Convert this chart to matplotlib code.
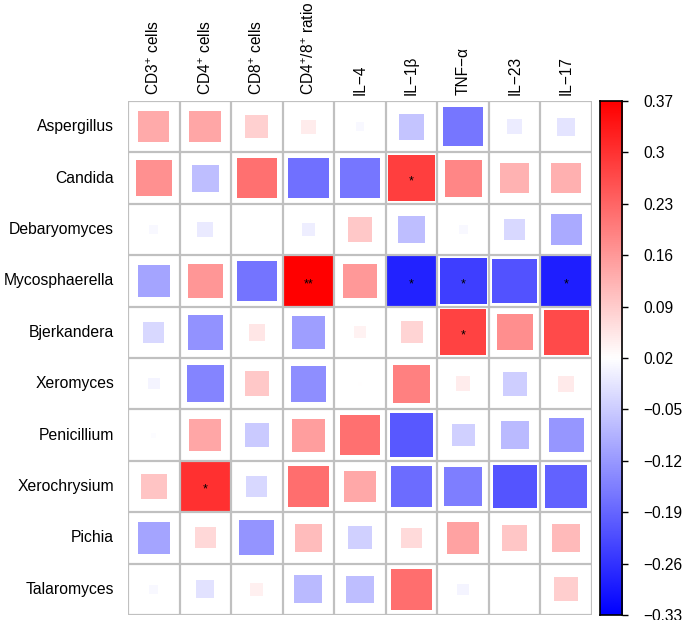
import numpy as np
import matplotlib
matplotlib.use("Agg")
import matplotlib.pyplot as plt
from matplotlib.patches import Rectangle
from matplotlib.colors import LinearSegmentedColormap, Normalize

plt.rcParams['font.family'] = ['Liberation Sans', 'DejaVu Sans']
plt.rcParams['mathtext.fontset'] = 'custom'
plt.rcParams['mathtext.rm'] = 'Liberation Sans'
plt.rcParams['mathtext.it'] = 'Liberation Sans:italic'

genera = ["Aspergillus", "Candida", "Debaryomyces", "Mycosphaerella", "Bjerkandera",
          "Xeromyces", "Penicillium", "Xerochrysium", "Pichia", "Talaromyces"]
markers = ["CD3$^{+}$ cells", "CD4$^{+}$ cells", "CD8$^{+}$ cells", "CD4$^{+}$/8$^{+}$ ratio",
           "IL\u22124", "IL\u22121\u03b2", "TNF\u2212\u03b1", "IL\u221223", "IL\u221217"]

aspergillus    = [0.137, 0.141, 0.085, 0.045, 0.011, -0.060, -0.168, -0.006, -0.018]
candida        = [0.172, -0.069, 0.215, -0.175, -0.168, 0.284, 0.186, 0.124, 0.129]
debaryomyces   = [0.011, -0.010, 0.020, -0.002, 0.094, -0.070, 0.010, -0.033, -0.095]
mycosphaerella = [-0.105, 0.163, -0.171, 0.370, 0.160, -0.281, -0.245, -0.217, -0.288]
bjerkandera    = [-0.034, -0.130, 0.053, -0.113, 0.037, 0.078, 0.278, 0.175, 0.267]
xeromyces      = [0.004, -0.147, 0.094, -0.135, 0.022, 0.193, 0.046, -0.048, 0.050]
penicillium    = [0.017, 0.142, -0.052, 0.153, 0.215, -0.209, -0.043, -0.074, -0.124]
xerochrysium   = [0.100, 0.302, -0.033, 0.219, 0.140, -0.182, -0.157, -0.213, -0.195]
pichia         = [-0.105, 0.074, -0.127, 0.111, -0.045, 0.071, 0.147, 0.098, 0.114]
talaromyces    = [0.010, -0.020, 0.040, -0.074, -0.069, 0.219, 0.004, 0.020, 0.088]

signif = {(1, 5): "*", (3, 3): "**", (3, 5): "*", (3, 6): "*", (3, 8): "*",
          (4, 6): "*", (7, 1): "*"}

cbar_ticks = [0.37, 0.3, 0.23, 0.16, 0.09, 0.02, -0.05, -0.12, -0.19, -0.26, -0.33]

data = np.array([aspergillus, candida, debaryomyces, mycosphaerella, bjerkandera,
                 xeromyces, penicillium, xerochrysium, pichia, talaromyces])

vmin, vmax = -0.33, 0.37
mid = (vmin + vmax) / 2
half = (vmax - vmin) / 2
cmap = LinearSegmentedColormap.from_list("bwr_pure", ["#0000FF", "#FFFFFF", "#FF0000"])
norm = Normalize(vmin=vmin, vmax=vmax)

W, H = 685, 620
fig = plt.figure(figsize=(W / 100, H / 100), dpi=100)
ax = fig.add_axes([128 / W, 1 - 615 / H, (592 - 128) / W, (615 - 101) / H])
nr, nc = data.shape
ax.set_xlim(0, nc)
ax.set_ylim(nr, 0)

grid_col = "#C0C0C0"
for i in range(nr):
    for j in range(nc):
        v = data[i, j]
        q = min(abs(v - mid) / half, 1.0)
        s = min(np.sqrt(q) * 1.045, 1.0)
        if s > 0.01:
            ax.add_patch(Rectangle((j + 0.5 - s / 2, i + 0.5 - s / 2), s, s,
                                   facecolor=cmap(norm(v)), edgecolor="none", zorder=2))
        if (i, j) in signif:
            ax.text(j + 0.5, i + 0.56, signif[(i, j)], ha="center", va="center",
                    fontsize=9, color="black", zorder=3)

for k in range(nc + 1):
    ax.axvline(k, color=grid_col, lw=1.6, zorder=4)
for k in range(nr + 1):
    ax.axhline(k, color=grid_col, lw=1.6, zorder=4)

for sp in ax.spines.values():
    sp.set_visible(False)
ax.set_xticks([])
ax.set_yticks([])

for i, g in enumerate(genera):
    ax.text(-0.27, i + 0.5, g, ha="right", va="center", fontsize=11.3)
for j, m in enumerate(markers):
    ax.text(j + 0.5, -0.12, m, ha="center", va="bottom", rotation=90, fontsize=11.2)

# colorbar
cax = fig.add_axes([600 / W, 1 - 615 / H, 22 / W, (615 - 101) / H])
grad = np.linspace(vmin, vmax, 512).reshape(-1, 1)
cax.imshow(grad, aspect="auto", cmap=cmap, norm=norm, origin="lower",
           extent=[0, 1, vmin, vmax])
cax.set_xlim(0, 1)
cax.set_ylim(vmin, vmax)
cax.set_xticks([])
cax.yaxis.tick_right()
cax.set_yticks(cbar_ticks)
cax.set_yticklabels([("%g" % t).replace("-", "\u2212") for t in cbar_ticks], fontsize=11.2)
cax.tick_params(axis="y", length=4.5, width=1, pad=11)
for sp in cax.spines.values():
    sp.set_linewidth(1.2)
    sp.set_color("black")

fig.savefig("out.png", dpi=100)
